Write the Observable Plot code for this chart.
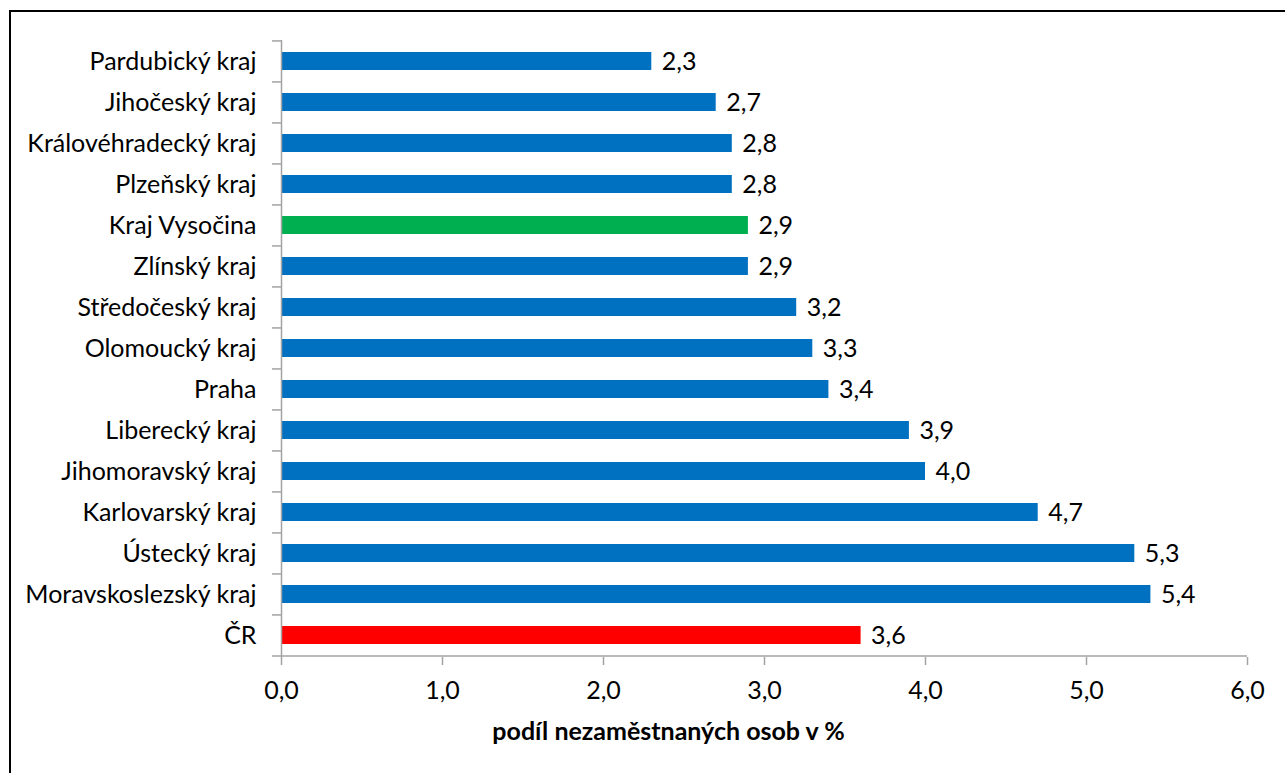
<!DOCTYPE html>
<html>
<head>
<meta charset="utf-8">
<script src="https://cdn.jsdelivr.net/npm/d3@7"></script>
<script src="https://cdn.jsdelivr.net/npm/@observablehq/plot@0.6"></script>
<style>
  html, body { margin: 0; padding: 0; background: #fff; overflow: hidden; }
  #wrap { position: relative; width: 1285px; height: 773px; }
  #frame { position: absolute; left: 9px; top: 10px; width: 1400px; height: 900px;
           border-top: 2px solid #000; border-left: 2px solid #000; box-sizing: border-box; }
  #chart { position: absolute; left: 0; top: 0; }
</style>
</head>
<body>
<div id="wrap"><div id="frame"></div><div id="chart"></div></div>
<script>
const regions = ["Pardubický kraj", "Jihočeský kraj", "Královéhradecký kraj", "Plzeňský kraj",
  "Kraj Vysočina", "Zlínský kraj", "Středočeský kraj", "Olomoucký kraj", "Praha",
  "Liberecký kraj", "Jihomoravský kraj", "Karlovarský kraj", "Ústecký kraj",
  "Moravskoslezský kraj", "ČR"];
const values = [2.3, 2.7, 2.8, 2.8, 2.9, 2.9, 3.2, 3.3, 3.4, 3.9, 4.0, 4.7, 5.3, 5.4, 3.6];
const groups = ["kraj", "kraj", "kraj", "kraj", "Vysočina", "kraj", "kraj", "kraj", "kraj",
  "kraj", "kraj", "kraj", "kraj", "kraj", "ČR"];
const xTicks = [0, 1, 2, 3, 4, 5, 6];
const xTitle = "podíl nezaměstnaných osob v %";

const data = regions.map((r, i) => ({region: r, value: values[i], group: groups[i]}));
const fmt = v => v.toFixed(1).replace(".", ",");
const FONT = "Lato, 'Open Sans', sans-serif";
const FS = 25;
const axisGray = "#a3a3a3";
const step = (657 - 40) / regions.length;

const plot = Plot.plot({
  width: 1285,
  height: 773,
  marginLeft: 281,
  marginRight: 38,
  marginTop: 40,
  marginBottom: 116,
  style: {fontFamily: FONT, fontSize: FS + "px", color: "#000", background: "transparent"},
  x: {domain: [0, 6]},
  y: {domain: regions, paddingInner: 0.56, paddingOuter: 0.28},
  color: {domain: ["kraj", "Vysočina", "ČR"], range: ["#0070c0", "#00b050", "#ff0000"]},
  marks: [
    Plot.barX(data, {x: "value", y: "region", fill: "group"}),
    Plot.ruleX([0], {stroke: axisGray, strokeWidth: 1.5}),
    Plot.ruleY(regions, {y: d => d, x1: 0, x2: 0, insetLeft: -9, dy: -step / 2, stroke: axisGray, strokeWidth: 1.5}),
    Plot.ruleY(regions.slice(-1), {y: d => d, x1: 0, x2: 6, insetLeft: -9, dy: step / 2, stroke: axisGray, strokeWidth: 1.5}),
    Plot.axisX({ticks: xTicks, tickFormat: fmt, tickSize: 8, tickPadding: 16, stroke: axisGray, strokeWidth: 1.5, label: null, fontSize: FS, fill: "#000"}),
    Plot.axisY({tickSize: 0, tickPadding: 25, label: null, fontSize: FS, fill: "#000"}),
    Plot.text(data, {x: "value", y: "region", text: d => fmt(d.value), textAnchor: "start", dx: 10, fontSize: FS, fill: "#000"}),
    Plot.text([xTitle], {frameAnchor: "bottom", text: d => d, dx: -96, dy: 74, lineAnchor: "middle", fontWeight: "bold", fontSize: FS, fill: "#000"})
  ]
});
document.getElementById("chart").appendChild(plot);
</script>
</body>
</html>
